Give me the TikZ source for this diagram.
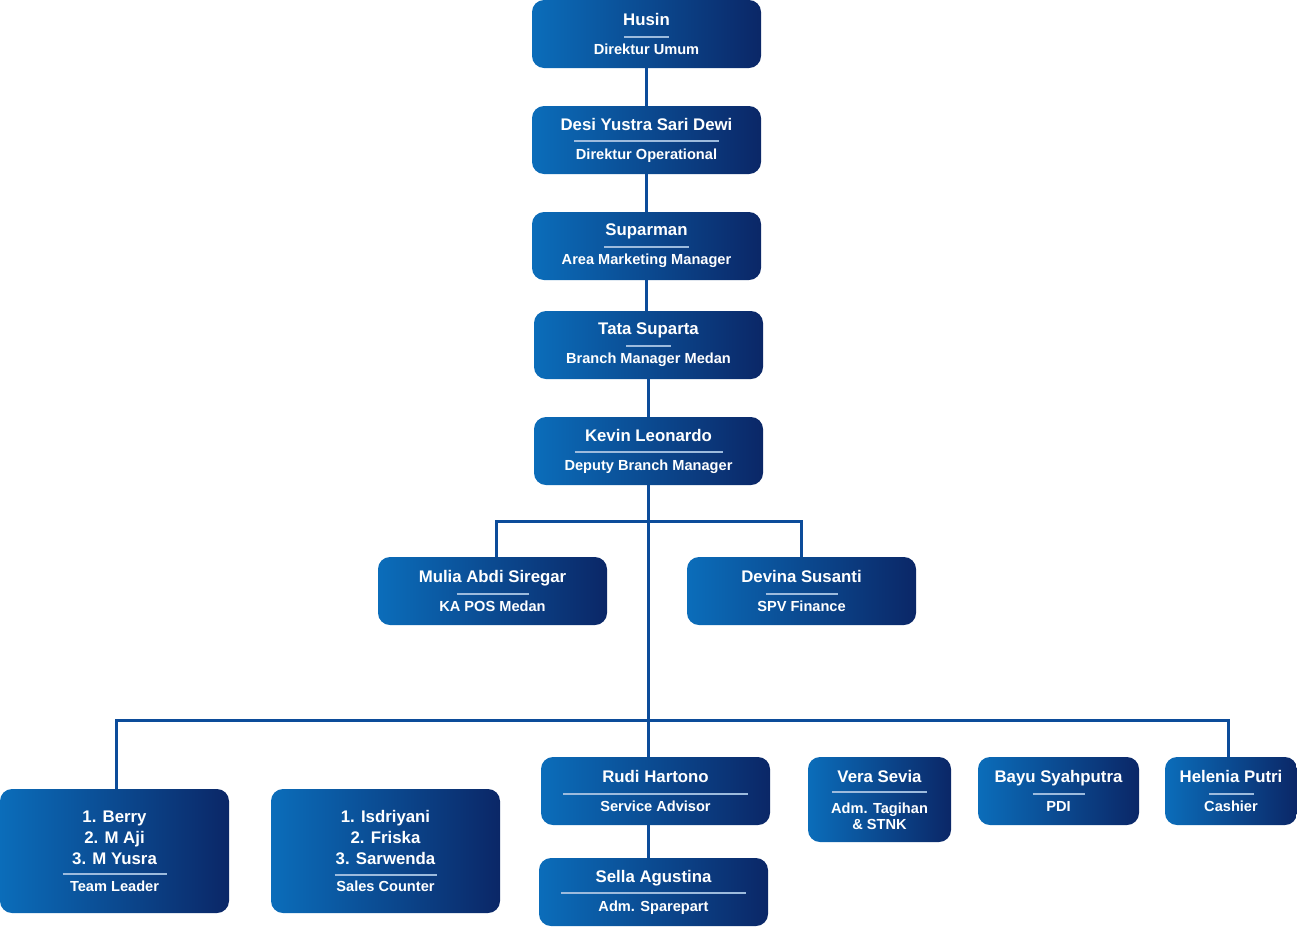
\documentclass[tikz,border=0pt]{standalone}
\usepackage{fontspec}
\setmainfont{Liberation Sans}
\usetikzlibrary{calc,positioning}
\definecolor{cardleft}{HTML}{0B6DBA}
\definecolor{cardright}{HTML}{0B2767}
\definecolor{linkblue}{HTML}{0C4C9A}
\definecolor{sepblue}{HTML}{9DBBDD}
\newcommand{\namefont}{\fontsize{8.4}{10.5}\selectfont\bfseries}
\newcommand{\subfont}{\fontsize{7.3}{8.2}\selectfont\bfseries}
\newcommand{\sepline}[1]{{\color{sepblue}\rule{\dimexpr #1pt/2\relax}{0.9pt}}}
\tikzset{
  card/.style={rounded corners=6pt, left color=cardleft, right color=cardright,
    text=white, align=center, inner sep=0pt, minimum width=114.5pt, minimum height=34pt},
  link/.style={draw=linkblue, line width=1.5pt}
}
\begin{document}
\begin{tikzpicture}[x=0.5pt,y=-0.5pt]
        \useasboundingbox (0,0) rectangle (1297,927);
        % top chain
        \node[card](husin)at(646.5,34){\namefont Husin\\[-6pt]\sepline{45}\\[-3.5pt]\subfont Direktur Umum};
        \node[card](desi)at(646.5,140){\namefont Desi Yustra Sari Dewi\\[-6pt]\sepline{145}\\[-3.5pt]\subfont Direktur Operational};
        \node[card](suparman)at(646.5,246){\namefont Suparman\\[-6pt]\sepline{85}\\[-3.5pt]\subfont Area Marketing Manager};
        \node[card](tata)at(648.5,345){\namefont Tata Suparta\\[-6pt]\sepline{45}\\[-3.5pt]\subfont Branch Manager Medan};
        \node[card](kevin)at(648.5,451){\namefont Kevin Leonardo\\[-6pt]\sepline{148}\\[-3.5pt]\subfont Deputy Branch Manager};
        % second row
        \node[card](mulia)at(492.5,591){\namefont Mulia Abdi Siregar\\[-6pt]\sepline{72}\\[-3.5pt]\subfont KA POS Medan};
        \node[card](devina)at(801.5,591){\namefont Devina Susanti\\[-6pt]\sepline{72}\\[-3.5pt]\subfont SPV Finance};
        % bottom row
        \node[card, minimum height=62pt](leader)at(114.5,851){\namefont 1. Berry\\[-1.5pt]\namefont 2. M Aji\\[-1.5pt]\namefont 3. M Yusra\\[-6.5pt]\sepline{104}\\[-4pt]\subfont Team Leader};
        \node[card, minimum height=62pt](counter)at(385.5,851){\namefont 1. Isdriyani\\[-1.5pt]\namefont 2. Friska\\[-1.5pt]\namefont 3. Sarwenda\\[-6.5pt]\sepline{102}\\[-4pt]\subfont Sales Counter};
        \node[card](rudi)at(655.5,791){\namefont Rudi Hartono\\[-6pt]\sepline{185}\\[-3.5pt]\subfont Service Advisor};
        \node[card](sella)at(653.5,892){\namefont Sella Agustina\\[-6pt]\sepline{185}\\[-3.5pt]\subfont Adm. Sparepart};
        \node[card, minimum width=71.5pt, minimum height=42.5pt](vera)at(879.5,799.5){\namefont Vera Sevia\\[-6.5pt]\sepline{95}\\[-2pt]\subfont Adm. Tagihan\\[-4pt]\subfont \& STNK};
        \node[card, minimum width=80.5pt](bayu)at(1058.5,791){\namefont Bayu Syahputra\\[-6pt]\sepline{52}\\[-3.5pt]\subfont PDI};
        \node[card, minimum width=66pt](helenia)at(1231,791){\namefont Helenia Putri\\[-6pt]\sepline{45}\\[-3.5pt]\subfont Cashier};
        % lines
        \coordinate(hub)at($(kevin.south)+(0,36)$);
        \coordinate(bus)at($(kevin.south)+(0,235)$);
        \path[link](husin)--(desi);
        \path[link](desi)--(suparman);
        \path[link](suparman.south)--(suparman.south|-tata.north);
        \path[link](tata)--(kevin);
        \path[link](kevin.south)--(bus);
        \path[link]($(mulia.north)+(3.5,0)$)|-(hub)-|(devina.north);
        \path[link]($(leader.north)+(1.5,0)$)|-(bus)-|($(helenia.north)+(-3,0)$);
        \path[link]($(counter.north)+(1.5,0)$)--($(counter.north)+(1.5,0)$|-bus);
        \path[link](bus)--(bus|-rudi.north);
        \path[link](rudi.south-|bus)--(sella.north-|bus);
        \path[link]($(vera.north)+(1.5,0)$)--($(vera.north)+(1.5,0)$|-bus);
        \path[link]($(bayu.north)+(-4.5,0)$)--($(bayu.north)+(-4.5,0)$|-bus);
\end{tikzpicture}
\end{document}
